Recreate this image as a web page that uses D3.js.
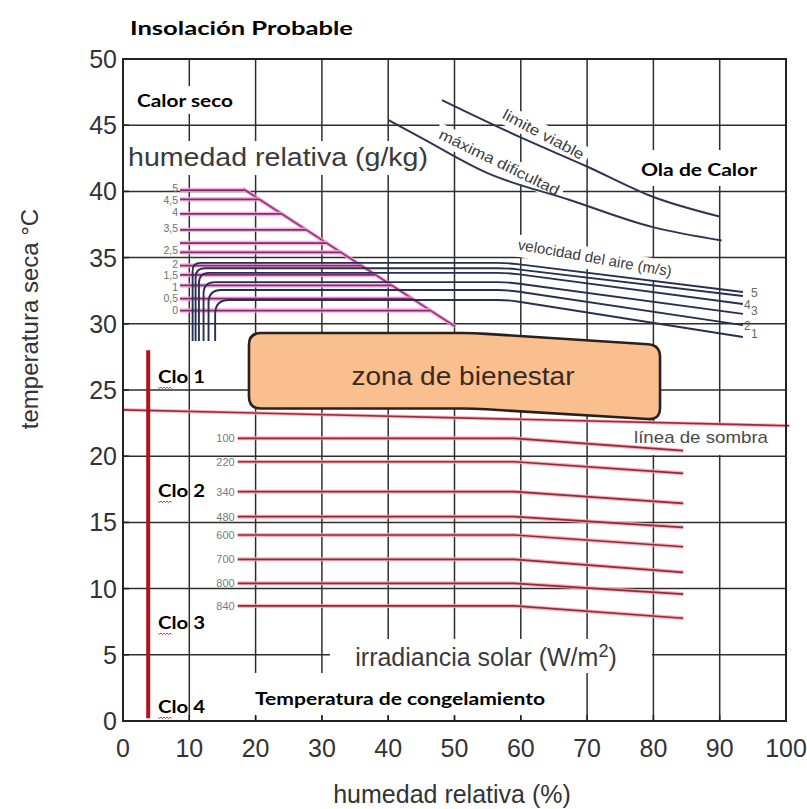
<!DOCTYPE html>
<html><head><meta charset="utf-8">
<script src="https://cdn.jsdelivr.net/npm/d3@7"></script>
<style>body{margin:0;background:#fff}svg{display:block}</style>
</head><body><svg id="c" width="807" height="809"></svg>
<script>
// ---------------- data ----------------
const xTicks = [0,10,20,30,40,50,60,70,80,90,100];
const yTicks = [0,5,10,15,20,25,30,35,40,45,50];
// humedad (g/kg) lines
const humLabels = ["5","4,5","4","3,5","","2,5","2","1,5","1","0,5","0"];
const humTemps  = [40.1,39.4,38.3,37.1,36.1,35.4,34.4,33.7,32.9,31.9,31.0];
const humStart = 8.6;
const humDiagonal = [[18.1,40.2],[50.1,29.8]];
// velocidad del aire (m/s)
const windLabels  = ["","5","4","3","2","1"];
const windX       = [10.5,10.95,11.45,12.15,12.9,13.9];
const windTemp    = [34.6,34.2,33.85,33.15,32.55,31.8];
const windEndTemp = [32.4,32.1,31.5,30.75,29.9,29.0];
const windBottom = 28.7, windBend = 58, windEnd = 93.5;
// irradiancia solar (W/m2)
const irrLabels  = ["100","220","340","480","600","700","800","840"];
const irrTemp    = [21.35,19.58,17.32,15.43,14.05,12.21,10.40,8.69];
const irrEndTemp = [20.42,18.71,16.44,14.63,13.16,11.23,9.59,7.76];
const irrStart = 17.3, irrBend = 59, irrEnd = 84.5;
// limit curves
const limiteViable = [[48.1,46.9],[59.9,44.1],[69.9,41.9],[79.9,39.6],[90.0,38.1]];
const maximaDificultad = [[40.0,45.4],[44.8,44.1],[54.9,41.4],[67.4,39.35],[79.9,37.3],[90.3,36.3]];
// comfort zone
const comfortZone = [[19,29.3],[53,29.3],[81,28.4],[81,22.75],[53,23.6],[19,23.6]];
// shadow line
const shadowLine = [[0,23.5],[100.5,22.3]];
// clo bar
const cloBar = [[3.8,28.0],[3.8,0.2]];
const cloLabels = ["Clo 1","Clo 2","Clo 3","Clo 4"];

// ---------------- chart ----------------
const svg = d3.select("#c");
const x = d3.scaleLinear().domain([0,100]).range([123,786]);
const y = d3.scaleLinear().domain([0,50]).range([721,59]);
const FONT = "'Liberation Sans', Arial, Helvetica, sans-serif";
const BOLD = "Lato, 'Open Sans', sans-serif";

svg.append("rect").attr("width",807).attr("height",809).attr("fill","#fff");

// grid
const grid = svg.append("g").attr("stroke","#2e2e2e").attr("stroke-width",1.5);
grid.selectAll("line.v").data(xTicks.slice(1,-1)).join("line")
  .attr("x1",d=>x(d)).attr("x2",d=>x(d)).attr("y1",y(0)).attr("y2",y(50));
grid.selectAll("line.h").data(yTicks.slice(1,-1)).join("line")
  .attr("x1",x(0)).attr("x2",x(100)).attr("y1",d=>y(d)).attr("y2",d=>y(d));

// white label backgrounds (cover grid)
const bg = svg.append("g").attr("fill","#fff");
bg.append("rect").attr("x",128).attr("y",86).attr("width",112).attr("height",28);   // Calor seco
bg.append("rect").attr("x",634).attr("y",150).attr("width",130).attr("height",36);  // Ola de Calor
bg.append("rect").attr("x",125).attr("y",141).attr("width",308).attr("height",34);  // humedad relativa g/kg
bg.append("rect").attr("x",626).attr("y",424).attr("width",150).attr("height",31);  // linea de sombra
bg.append("rect").attr("x",330).attr("y",639).attr("width",322).attr("height",34);  // irradiancia
bg.append("rect").attr("x",200).attr("y",673).attr("width",375).attr("height",43);  // congelamiento
bg.append("rect").attr("x",-50).attr("y",-15).attr("width",100).attr("height",20)
  .attr("transform","translate(541,139) rotate(28)");
bg.append("rect").attr("x",-70).attr("y",-15).attr("width",140).attr("height",20)
  .attr("transform","translate(497,167) rotate(26)");
bg.append("rect").attr("x",-82).attr("y",-15).attr("width",164).attr("height",22)
  .attr("transform","translate(594,263) rotate(10)");

const line = d3.line().x(d=>x(d[0])).y(d=>y(d[1]));

function haloLine(g, pts, halo, core, hw, cw){
  g.append("path").attr("d",line(pts)).attr("fill","none").attr("stroke",halo)
    .attr("stroke-width",hw).attr("stroke-linejoin","round").attr("opacity",0.85);
  g.append("path").attr("d",line(pts)).attr("fill","none").attr("stroke",core)
    .attr("stroke-width",cw).attr("stroke-linejoin","round");
}

// shadow line
const gShadow = svg.append("g");
haloLine(gShadow, shadowLine, "#f2a9b3", "#a5283a", 3.5, 1.6);

// irradiance lines
const gIrr = svg.append("g");
irrTemp.forEach((t,i)=>{
  haloLine(gIrr, [[irrStart,t],[irrBend,t],[irrEnd,irrEndTemp[i]]], "#f2a9b3", "#9a2638", 4, 1.7);
});
gIrr.selectAll("text").data(irrLabels).join("text")
  .attr("x",x(irrStart)-3).attr("y",(d,i)=>y(irrTemp[i])+4)
  .attr("text-anchor","end").attr("font-family",FONT).attr("font-size",11)
  .attr("fill","#7a7a7a").text(d=>d);

// humidity (magenta) lines
const gHum = svg.append("g");
const [d0,d1] = humDiagonal;
function diagHum(t){ return d0[0] + (d1[0]-d0[0])*(t-d0[1])/(d1[1]-d0[1]); }
haloLine(gHum, humDiagonal, "#eeaad8", "#a3337f", 4, 1.8);
humTemps.forEach((t,i)=>{
  haloLine(gHum, [[humStart,t],[diagHum(t),t]], "#eeaad8", "#8b2a6f", 4.5, 1.7);
});
// label baselines, spread so they do not collide
const humLabY = [];
humTemps.forEach((t,i)=>{
  let v = y(t)+2;
  if(i>0){
    let j=i-1; while(j>=0 && humLabels[j]==="") j--;
    if(j>=0 && humLabels[i]!=="") v = Math.max(v, humLabY[j]+11.5);
  }
  humLabY.push(v);
});
gHum.selectAll("text").data(humLabels).join("text")
  .attr("x",x(humStart)-2).attr("y",(d,i)=>humLabY[i])
  .attr("text-anchor","end").attr("font-family",FONT).attr("font-size",10.5)
  .attr("fill","#6e6e6e").text(d=>d);

// wind lines (navy)
const gWind = svg.append("g").attr("fill","none").attr("stroke","#27304f").attr("stroke-width",1.9);
windX.forEach((wx,i)=>{
  const px = x(wx), pb = y(windBottom), pt = y(windTemp[i]);
  const pbx = x(windBend), pex = x(windEnd), pey = y(windEndTemp[i]);
  const r = 8 + i*1.2;
  const p = d3.path();
  p.moveTo(px,pb);
  p.lineTo(px,pt+r);
  p.quadraticCurveTo(px,pt,px+r,pt);
  p.lineTo(pbx-10,pt);
  p.quadraticCurveTo(pbx,pt,pbx+10,pt+(pey-pt)*10/(pex-pbx));
  p.lineTo(pex,pey);
  gWind.append("path").attr("d",p.toString());
});
svg.append("g").selectAll("text").data(windLabels).join("text")
  .attr("x",(d,i)=>x(windEnd)+(i%2?8:1)).attr("y",(d,i)=>y(windEndTemp[i])+(i%2?1:5))
  .attr("font-family",FONT).attr("font-size",12).attr("fill","#666").text(d=>d);

// limit curves
const curve = d3.line().x(d=>x(d[0])).y(d=>y(d[1])).curve(d3.curveMonotoneX);
svg.append("path").attr("d",curve(limiteViable)).attr("fill","none").attr("stroke","#2d3652").attr("stroke-width",2);
svg.append("path").attr("d",curve(maximaDificultad)).attr("fill","none").attr("stroke","#2d3652").attr("stroke-width",2);

// comfort zone (rounded polygon)
function roundedPoly(pts, r){
  const P = pts.map(d=>[x(d[0]),y(d[1])]);
  const n = P.length, p = d3.path();
  const cut = (a,b,dist)=>{ const dx=b[0]-a[0], dy=b[1]-a[1], L=Math.hypot(dx,dy); const k=Math.min(dist,L/2)/L; return [a[0]+dx*k,a[1]+dy*k]; };
  for(let i=0;i<n;i++){
    const prev=P[(i-1+n)%n], cur=P[i], next=P[(i+1)%n];
    const a=cut(cur,prev,r), b=cut(cur,next,r);
    if(i===0) p.moveTo(a[0],a[1]); else p.lineTo(a[0],a[1]);
    p.quadraticCurveTo(cur[0],cur[1],b[0],b[1]);
  }
  p.closePath();
  return p.toString();
}
svg.append("path").attr("d",roundedPoly(comfortZone,12)).attr("fill","#f9bf8e")
  .attr("stroke","#2a201c").attr("stroke-width",2.6).attr("stroke-linejoin","round");
svg.append("text").attr("x",463).attr("y",385).attr("text-anchor","middle")
  .attr("font-family",FONT).attr("font-size",25).attr("fill","#3a2a22")
  .attr("textLength",223).attr("lengthAdjust","spacingAndGlyphs").text("zona de bienestar");

// frame
svg.append("rect").attr("x",x(0)).attr("y",y(50)).attr("width",x(100)-x(0)).attr("height",y(0)-y(50))
  .attr("fill","none").attr("stroke","#222").attr("stroke-width",2);
// inward ticks
const ticks = svg.append("g").attr("stroke","#222").attr("stroke-width",1.5);
ticks.selectAll("line.xt").data(xTicks).join("line")
  .attr("x1",d=>x(d)).attr("x2",d=>x(d)).attr("y1",y(0)).attr("y2",y(0)-6);
ticks.selectAll("line.yt").data(yTicks).join("line")
  .attr("y1",d=>y(d)).attr("y2",d=>y(d)).attr("x1",x(0)).attr("x2",x(0)+6);

// tick labels
svg.append("g").selectAll("text").data(xTicks).join("text")
  .attr("x",d=>x(d)).attr("y",757).attr("text-anchor","middle")
  .attr("font-family",FONT).attr("font-size",25).attr("fill","#333").text(d=>d);
svg.append("g").selectAll("text").data(yTicks).join("text")
  .attr("x",117).attr("y",d=>y(d)+9).attr("text-anchor","end")
  .attr("font-family",FONT).attr("font-size",25).attr("fill","#333").text(d=>d);

// axis titles
svg.append("text").attr("x",452).attr("y",803).attr("text-anchor","middle")
  .attr("font-family",FONT).attr("font-size",25).attr("fill","#333").text("humedad relativa (%)");
svg.append("text").attr("transform","translate(38,319) rotate(-90)").attr("text-anchor","middle")
  .attr("font-family",FONT).attr("font-size",24).attr("fill","#333").text("temperatura seca °C");

// chart labels
function lab(txt, tx, ty, size, len, rot, fill){
  const t = svg.append("text").attr("transform",`translate(${tx},${ty}) rotate(${rot||0})`)
    .attr("text-anchor","middle").attr("font-family",FONT).attr("font-size",size)
    .attr("fill",fill||"#3a3a3a").text(txt);
  if(len) t.attr("textLength",len).attr("lengthAdjust","spacingAndGlyphs");
  return t;
}
lab("humedad relativa (g/kg)", 278, 166, 26, 300);
lab("limite viable", 541, 139, 15, 90, 28, "#404040");
lab("máxima dificultad", 497, 167, 15, 132, 26, "#404040");
lab("velocidad del aire (m/s)", 594, 263, 15, 156, 10, "#404040");
lab("línea de sombra", 701, 443, 17, 134, 0, "#4a4a4a");
const irr = svg.append("text").attr("x",486).attr("y",666).attr("text-anchor","middle")
  .attr("font-family",FONT).attr("font-size",25).attr("fill","#3a3a3a");
irr.append("tspan").text("irradiancia solar (W/m");
irr.append("tspan").attr("dy",-9).attr("font-size",18).text("2");
irr.append("tspan").attr("dy",9).text(")");

// bold annotations
function blab(txt, tx, ty, size, len){
  svg.append("text").attr("x",tx).attr("y",ty).attr("font-family",BOLD).attr("font-weight",700)
    .attr("font-size",size).attr("fill","#000").attr("textLength",len)
    .attr("lengthAdjust","spacingAndGlyphs").text(txt);
}
blab("Insolación Probable", 130, 35, 19.5, 223);
blab("Calor seco", 137, 107, 16.5, 96);
blab("Ola de Calor", 641, 176, 16.5, 116);
blab("Temperatura de congelamiento", 255, 705, 16.5, 290);

// clo bar
svg.append("path").attr("d",line(cloBar)).attr("stroke","#b3121c").attr("stroke-width",4).attr("fill","none");
const cloY = [383, 497, 629, 713];
cloLabels.forEach((c,i)=>{
  blab(c, 158, cloY[i], 16.5, 47);
  let dpath = `M158,${cloY[i]+4}`;
  for(let k=0;k<9;k++) dpath += ` l1.5,${k%2?-1.6:1.6}`;
  svg.append("path").attr("d",dpath).attr("fill","none").attr("stroke","#d43030").attr("stroke-width",0.9);
});
</script></body></html>
